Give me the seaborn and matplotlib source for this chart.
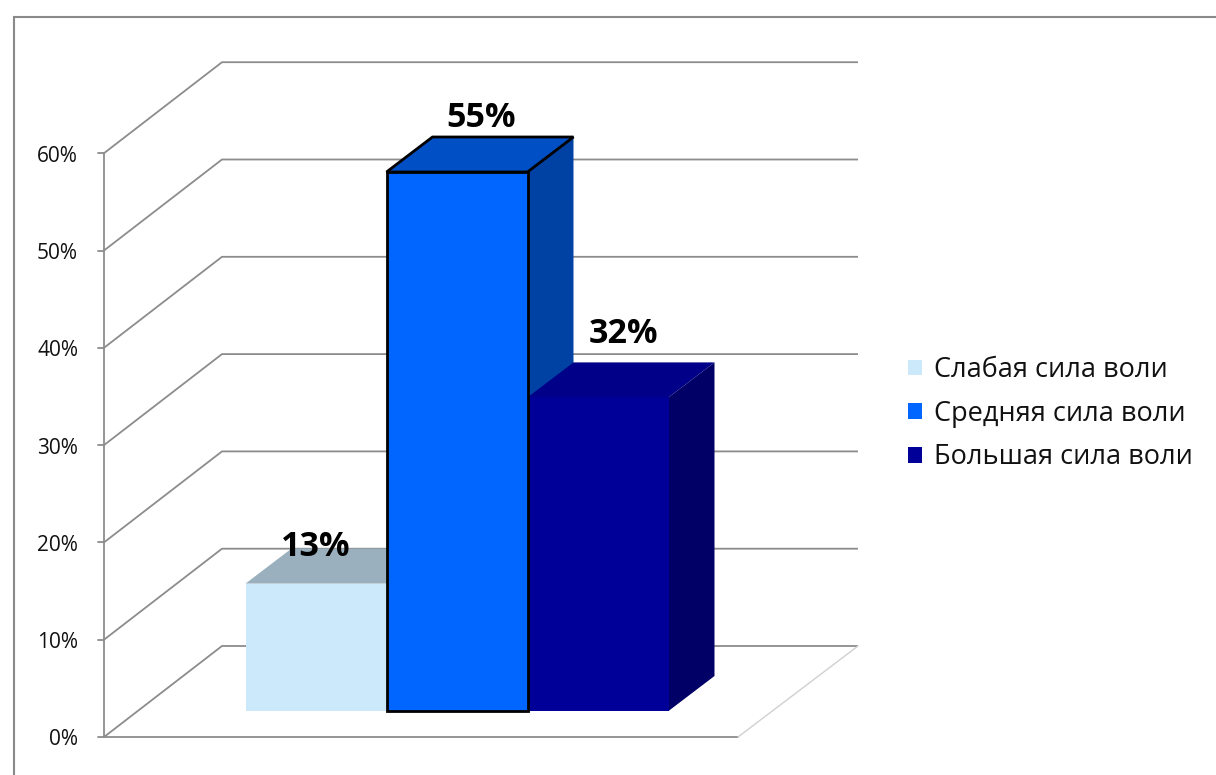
import matplotlib
matplotlib.use("Agg")
import matplotlib.pyplot as plt
import seaborn as sns
import pandas as pd
from matplotlib.patches import Polygon, Rectangle

# ---- data ----
series = ["Слабая сила воли", "Средняя сила воли", "Большая сила воли"]
values = [13, 55, 32]
value_labels = ["13%", "55%", "32%"]
ticks = [0, 10, 20, 30, 40, 50, 60]
tick_labels = ["0%", "10%", "20%", "30%", "40%", "50%", "60%"]

# ---- style ----
front_colors = ["#cce8fb", "#0066ff", "#000099"]
top_colors = ["#9ab0bf", "#004fc4", "#000088"]
side_colors = ["#7f95a5", "#0042a4", "#000066"]
grid_color = "#8c8c8c"

sns.set_theme(style="white")
plt.rcParams["font.family"] = ["Open Sans", "DejaVu Sans"]

W, H = 1216, 775
fig = plt.figure(figsize=(W / 100, H / 100), dpi=100)
ax = fig.add_axes([0, 0, 1, 1])

# pixel scale of the data units
PX = 141.0   # px per category unit
PY = 9.8     # px per percent (bar plane)

df = pd.DataFrame({"series": series, "value": values})
sns.barplot(data=df, x="series", y="value", hue="series", order=series,
            hue_order=series, palette=front_colors, width=1.0, ax=ax,
            legend=True, saturation=1, linewidth=0)
ax.set_xlim(-316 / PX, (W - 316) / PX)
ax.set_ylim((711 - H) / PY, 711 / PY)
ax.set_axis_off()

# ---- 3D frame (walls / floor) ----
wfx = (104 - 316) / PX          # front edge of left wall
wv0 = (711 - 737) / PY          # 0% at front of wall
ddx, ddv = 118 / PX, 91 / PY    # full depth vector
ws = 97.3 / PY / 10             # wall scale per percent
back_right = (858 - 316) / PX
floor_right = (738 - 316) / PX

for t, lab in zip(ticks, tick_labels):
    vf = wv0 + t * ws
    vb = vf + ddv
    ax.plot([wfx, wfx + ddx, back_right], [vf, vb, vb], color=grid_color,
            lw=1.3, zorder=1, solid_capstyle="butt")
    ax.plot([wfx - 6 / PX, wfx], [vf, vf], color=grid_color, lw=1.3, zorder=1)
    ax.text(wfx - 26 / PX, vf - 0.3, lab, ha="right", va="center", fontsize=15,
            color="#111111")
ax.plot([wfx, wfx], [wv0, wv0 + 60 * ws], color=grid_color, lw=1.3, zorder=1)
ax.plot([wfx, floor_right], [wv0, wv0], color=grid_color, lw=1.3, zorder=1)
ax.plot([floor_right, back_right], [wv0, wv0 + ddv], color="#d0d0d0",
        lw=1.0, zorder=1)

# ---- 3D bar faces ----
bdx, bdv = 46 / PX, 35 / PY
bars = {}
for cont in ax.containers:
    for p in cont.patches:
        h = p.get_height()
        if h is None or h != h:
            continue
        idx = int(round(p.get_x() + p.get_width() / 2))
        bars[idx] = p

front_z = [3, 8, 6]
for i, p in bars.items():
    x0, w, h = p.get_x(), p.get_width(), p.get_height()
    p.set_zorder(front_z[i])
    top = Polygon([(x0, h), (x0 + w, h), (x0 + w + bdx, h + bdv), (x0 + bdx, h + bdv)],
                  closed=True, facecolor=top_colors[i], edgecolor="none",
                  zorder=front_z[i] - 1)
    side = Polygon([(x0 + w, 0), (x0 + w + bdx, bdv), (x0 + w + bdx, h + bdv), (x0 + w, h)],
                   closed=True, facecolor=side_colors[i], edgecolor="none",
                   zorder=front_z[i] - 1 if i != 1 else 4)
    ax.add_patch(top)
    ax.add_patch(side)
    if i == 1:
        p.set_edgecolor("black")
        p.set_linewidth(2)
        top.set_edgecolor("black")
        top.set_linewidth(2)
        top.set_zorder(7)
        top.set_joinstyle("miter")

# value labels (offsets in px relative to top-back centre)
label_nudge = [(-23, 2), (1, 19), (2, 28)]
for i, p in bars.items():
    x0, w, h = p.get_x(), p.get_width(), p.get_height()
    nx, ny = label_nudge[i]
    ax.text(x0 + w / 2 + bdx / 2 + nx / PX, h + bdv + ny / PY, value_labels[i],
            ha="center", va="center", fontsize=24.5, fontweight="bold",
            color="black", zorder=10)

# legend
handles, labs = ax.get_legend_handles_labels()
ax.legend(handles, labs, loc="upper left", bbox_to_anchor=(908 / W, 1 - 356 / H),
          bbox_transform=fig.transFigure, frameon=False, fontsize=19.5,
          handlelength=0.52, handleheight=0.52, handletextpad=0.45,
          labelspacing=0.58, borderaxespad=0, borderpad=0,
          labelcolor="#111111")

# outer chart border
fig.add_artist(Rectangle((14 / W, -0.05), 1.1, 1 - 17 / H + 0.05,
                         transform=fig.transFigure, fill=False,
                         edgecolor="#8a8a8a", lw=1.5))

fig.savefig("out.png", dpi=100)
